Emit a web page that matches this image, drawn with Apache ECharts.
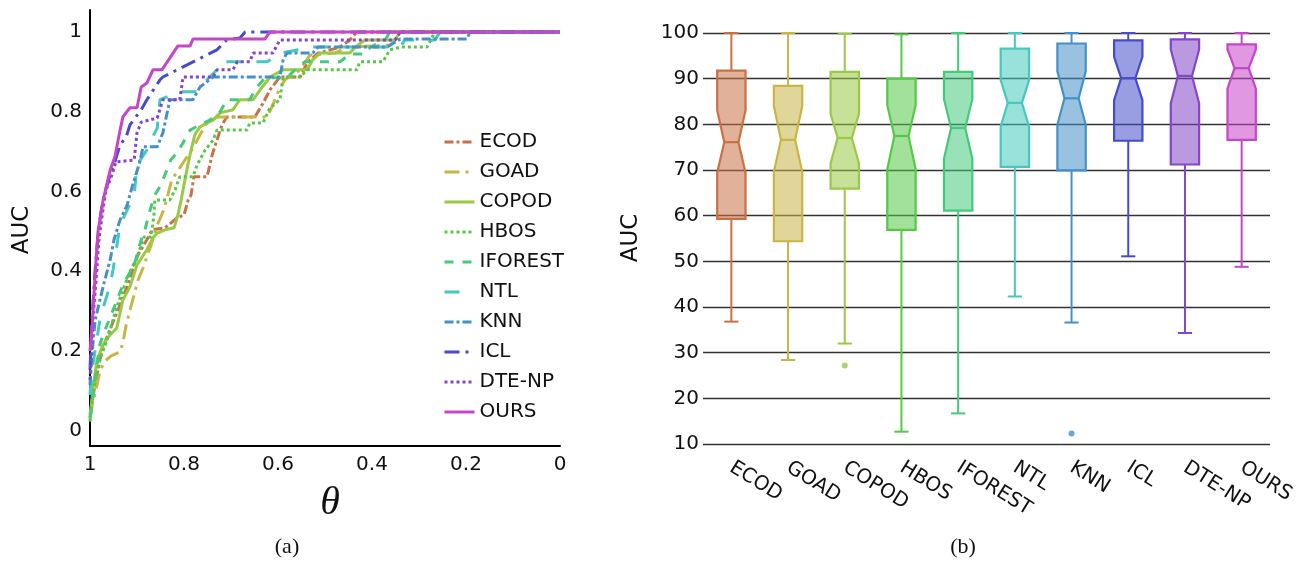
<!DOCTYPE html>
<html>
<head>
<meta charset="utf-8">
<script src="https://cdn.jsdelivr.net/npm/echarts@6/dist/echarts.min.js"></script>
<style>
html,body{margin:0;padding:0;background:#fff;}
#chart{width:1308px;height:561px;}
</style>
</head>
<body>
<div id="chart"></div>
<script>
// ---------- (a) AUC vs theta curves: [theta, AUC] ----------
const methodNames = ['ECOD','GOAD','COPOD','HBOS','IFOREST','NTL','KNN','ICL','DTE-NP','OURS'];
const methodColors = ['#c97145','#c9b545','#99c945','#55c945','#45c97a','#45c9be','#4590c9','#454cc9','#8345c9','#c745c9'];

const curveECOD = [[1,.04],[.996,.073],[.985,.14],[.977,.19],[.968,.223],[.951,.273],[.936,.316],[.921,.361],[.906,.416],[.898,.441],[.879,.479],[.868,.504],[.840,.509],[.815,.534],[.8,.541],[.791,.579],[.785,.591],[.779,.637],[.751,.637],[.740,.692],[.730,.729],[.719,.767],[.709,.787],[.649,.787],[.634,.817],[.617,.855],[.596,.887],[.553,.887],[.538,.922],[.515,.947],[.489,.955],[.468,.962],[.447,.98],[.432,1],[0,1]];
const curveGOAD = [[1,.033],[.996,.06],[.989,.095],[.979,.148],[.970,.173],[.955,.188],[.936,.198],[.930,.221],[.923,.266],[.915,.303],[.906,.341],[.9,.371],[.887,.409],[.870,.466],[.857,.516],[.843,.554],[.826,.629],[.798,.679],[.781,.709],[.766,.742],[.751,.772],[.730,.787],[.623,.787],[.613,.812],[.596,.86],[.585,.88],[.553,.905],[.532,.942],[.479,.947],[.453,.962],[.362,.967],[.345,.985],[.334,1],[0,1]];
const curveCOPOD = [[1,.028],[.994,.103],[.985,.178],[.972,.216],[.957,.241],[.943,.258],[.930,.328],[.915,.361],[.9,.416],[.879,.454],[.866,.484],[.857,.496],[.840,.504],[.821,.509],[.813,.541],[.806,.579],[.8,.617],[.794,.654],[.785,.704],[.777,.742],[.766,.762],[.751,.772],[.738,.779],[.723,.797],[.696,.805],[.681,.83],[.653,.83],[.638,.855],[.617,.887],[.589,.905],[.538,.905],[.526,.93],[.511,.947],[.447,.947],[.436,.962],[.415,.98],[.351,.98],[.340,1],[0,1]];
const curveHBOS = [[1,.023],[.994,.09],[.987,.14],[.979,.178],[.964,.228],[.957,.253],[.943,.311],[.926,.366],[.913,.404],[.9,.434],[.891,.466],[.885,.486],[.870,.486],[.864,.541],[.862,.579],[.830,.579],[.819,.604],[.809,.637],[.781,.637],[.772,.667],[.755,.704],[.738,.729],[.730,.754],[.666,.754],[.660,.772],[.632,.772],[.617,.81],[.596,.83],[.589,.887],[.553,.887],[.538,.905],[.432,.905],[.426,.925],[.377,.925],[.362,.955],[.340,.962],[.283,.962],[.266,1],[0,1]];
const curveIFOREST = [[1,.033],[.996,.065],[.991,.115],[.985,.165],[.979,.216],[.972,.241],[.951,.303],[.936,.348],[.930,.366],[.906,.416],[.891,.479],[.885,.496],[.872,.554],[.862,.591],[.849,.617],[.828,.679],[.815,.697],[.802,.722],[.787,.754],[.766,.767],[.745,.779],[.723,.8],[.709,.83],[.660,.83],[.649,.855],[.628,.885],[.581,.885],[.564,.905],[.543,.925],[.468,.925],[.447,.945],[.415,.945],[.404,.962],[.372,.98],[.362,1],[0,1]];
const curveNTL = [[1,.09],[.996,.148],[.989,.203],[.979,.278],[.970,.316],[.957,.366],[.951,.404],[.936,.516],[.926,.541],[.906,.591],[.9,.667],[.879,.704],[.870,.729],[.857,.759],[.851,.83],[.809,.85],[.772,.85],[.751,.88],[.730,.905],[.723,.925],[.623,.925],[.596,.947],[.526,.962],[.340,.962],[.330,.98],[.266,.98],[.255,1],[0,1]];
const curveKNN = [[1,.115],[.996,.19],[.989,.278],[.979,.328],[.970,.371],[.957,.429],[.949,.479],[.936,.529],[.921,.566],[.909,.617],[.894,.674],[.887,.712],[.857,.712],[.845,.747],[.830,.83],[.781,.83],[.766,.862],[.738,.887],[.596,.887],[.589,.93],[.581,.947],[.526,.947],[.515,.962],[.368,.962],[.340,.982],[.198,.982],[.191,1],[0,1]];
const curveICL = [[1,.153],[.996,.278],[.989,.404],[.983,.491],[.977,.546],[.970,.591],[.957,.642],[.949,.667],[.936,.717],[.923,.737],[.915,.767],[.891,.805],[.879,.83],[.851,.88],[.845,.887],[.815,.905],[.772,.93],[.730,.955],[.709,.98],[.681,.985],[.670,1],[0,1]];
const curveDTENP = [[1,.128],[.994,.278],[.987,.378],[.981,.479],[.974,.541],[.966,.604],[.953,.642],[.945,.674],[.906,.679],[.9,.747],[.891,.774],[.857,.784],[.845,.83],[.809,.83],[.802,.887],[.738,.887],[.730,.905],[.696,.905],[.687,.925],[.660,.925],[.653,.947],[.611,.947],[.596,.98],[.351,.98],[.340,1],[0,1]];
const curveOURS = [[1,.2],[.996,.253],[.991,.353],[.987,.429],[.983,.499],[.972,.579],[.957,.654],[.947,.687],[.936,.754],[.930,.787],[.915,.81],[.9,.81],[.891,.862],[.879,.872],[.866,.905],[.847,.905],[.830,.935],[.813,.965],[.787,.965],[.781,.982],[.628,.982],[.617,1],[0,1]];
const curves = [curveECOD,curveGOAD,curveCOPOD,curveHBOS,curveIFOREST,curveNTL,curveKNN,curveICL,curveDTENP,curveOURS];
const dashStyles = [[9,3,3,3],[15,6,3,6],'solid',[3,3],[9,9],[15,15],[9,3,3,3],[15,6,3,6],[3,3],'solid'];

const thetaTicks = [0,0.2,0.4,0.6,0.8,1];
const aucTicksA = [0,0.2,0.4,0.6,0.8,1];

// ---------- (b) notched box plots ----------
const boxCats = ['ECOD','GOAD','COPOD','HBOS','IFOREST','NTL','KNN','ICL','DTE-NP','OURS'];
const boxMin    = [36.8, 28.4, 32.0, 12.7, 16.7, 42.3, 36.6, 51.1, 34.3, 48.8];
const boxQ1     = [59.3, 54.4, 65.9, 56.9, 61.1, 70.7, 69.9, 76.4, 71.2, 76.6];
const boxNotchLo= [69.4, 69.6, 71.5, 70.2, 72.5, 79.5, 79.9, 85.3, 84.6, 87.8];
const boxMedian = [76.1, 76.6, 77.0, 77.45, 79.2, 84.7, 85.7, 90.1, 90.6, 92.3];
const boxNotchHi= [83.1, 84.0, 82.3, 84.2, 85.5, 89.7, 91.6, 94.8, 96.4, 96.4];
const boxQ3     = [91.75, 88.4, 91.5, 90.0, 91.5, 96.6, 97.7, 98.4, 98.6, 97.5];
const boxMax    = [100, 100, 99.8, 99.7, 100, 100, 100, 100, 100, 100];
const outlierCat = [2, 6];
const outlierVal = [27.2, 12.3];

const FONT = 'DejaVu Sans';
const chart = echarts.init(document.getElementById('chart'), null, {renderer:'canvas'});

const lineSeries = methodNames.map((name, i) => ({
  name: name,
  type: 'line',
  xAxisIndex: 0, yAxisIndex: 0,
  data: curves[i],
  symbol: 'none',
  showSymbol: false,
  clip: true,
  lineStyle: { color: methodColors[i], width: 3, type: dashStyles[i], cap: 'butt' },
  itemStyle: { color: methodColors[i] },
  z: 2 + i
}));

const boxData = boxCats.map((c, i) => [i, boxMin[i], boxQ1[i], boxNotchLo[i], boxMedian[i], boxNotchHi[i], boxQ3[i], boxMax[i]]);

function renderBox(params, api) {
  const i = api.value(0);
  const col = methodColors[i];
  const bw = api.size([1, 0])[0];
  const hw = bw * 0.25;
  const nw = hw * 0.5;
  const capHW = bw * 0.125;
  const cx = api.coord([i, 50])[0];
  const y = k => api.coord([i, api.value(k)])[1];
  const yMin = y(1), yQ1 = y(2), yNL = y(3), yMed = y(4), yNH = y(5), yQ3 = y(6), yMax = y(7);
  const ls = { stroke: col, lineWidth: 2 };
  return {
    type: 'group',
    children: [
      { type: 'line', shape: { x1: cx, y1: yQ3, x2: cx, y2: yMax }, style: ls },
      { type: 'line', shape: { x1: cx, y1: yQ1, x2: cx, y2: yMin }, style: ls },
      { type: 'line', shape: { x1: cx - capHW, y1: yMax, x2: cx + capHW, y2: yMax }, style: ls },
      { type: 'line', shape: { x1: cx - capHW, y1: yMin, x2: cx + capHW, y2: yMin }, style: ls },
      { type: 'polygon',
        shape: { points: [[cx - hw, yQ1], [cx - hw, yNL], [cx - nw, yMed], [cx - hw, yNH], [cx - hw, yQ3],
                          [cx + hw, yQ3], [cx + hw, yNH], [cx + nw, yMed], [cx + hw, yNL], [cx + hw, yQ1]] },
        style: { fill: col, fillOpacity: 0.55, stroke: col, lineWidth: 2.2, lineJoin: 'miter' } },
      { type: 'line', shape: { x1: cx - nw, y1: yMed, x2: cx + nw, y2: yMed }, style: { stroke: col, lineWidth: 2.2 } }
    ]
  };
}

const option = {
  animation: false,
  backgroundColor: '#ffffff',
  textStyle: { fontFamily: FONT },
  grid: [
    { left: 90, right: 748, top: 10, bottom: 115 },
    { left: 703, right: 38, top: 33, bottom: 117 }
  ],
  legend: {
    orient: 'vertical',
    left: 438, top: 127,
    itemWidth: 30, itemHeight: 14, itemGap: 10,
    data: methodNames,
    itemStyle: { color: 'rgba(0,0,0,0)', borderWidth: 0, opacity: 0 },
    lineStyle: { width: 3 },
    textStyle: { fontFamily: FONT, fontSize: 20, color: '#111' }
  },
  xAxis: [
    { gridIndex: 0, type: 'value', min: 0, max: 1, interval: 0.2, inverse: true,
      axisLine: { show: true, onZero: false, lineStyle: { color: '#000', width: 2 } },
      axisTick: { show: false }, splitLine: { show: false },
      axisLabel: { fontFamily: FONT, fontSize: 20, color: '#111', margin: 9,
        customValues: thetaTicks, formatter: v => String(+v.toFixed(1)) } },
    { gridIndex: 1, type: 'category', data: boxCats, boundaryGap: true,
      axisLine: { show: false }, axisTick: { show: false },
      axisLabel: { fontFamily: FONT, fontSize: 20, color: '#111', rotate: -32, margin: 22, interval: 0 } }
  ],
  yAxis: [
    { gridIndex: 0, type: 'value', min: -0.038, max: 1.055,
      axisLine: { show: true, onZero: false, lineStyle: { color: '#000', width: 2 } },
      axisTick: { show: false }, splitLine: { show: false },
      axisLabel: { fontFamily: FONT, fontSize: 20, color: '#111', margin: 8,
        customValues: aucTicksA, formatter: v => String(+v.toFixed(1)) } },
    { gridIndex: 1, type: 'value', min: 10, max: 100, interval: 10,
      axisLine: { show: false }, axisTick: { show: false },
      splitLine: { show: true, lineStyle: { color: '#333', width: 1.3 } },
      axisLabel: { fontFamily: FONT, fontSize: 20, color: '#111', margin: 4 } }
  ],
  graphic: [
    { type: 'text', x: 22, y: 230, rotation: Math.PI / 2,
      style: { text: 'AUC', font: '23px "DejaVu Sans"', fill: '#111', align: 'center', verticalAlign: 'middle' } },
    { type: 'text', x: 631, y: 238, rotation: Math.PI / 2,
      style: { text: 'AUC', font: '23px "DejaVu Sans"', fill: '#111', align: 'center', verticalAlign: 'middle' } },
    { type: 'text', x: 330, y: 503,
      style: { text: 'θ', font: 'italic 40px "Liberation Serif"', fill: '#111', align: 'center', verticalAlign: 'middle' } },
    { type: 'text', x: 287, y: 547,
      style: { text: '(a)', font: '22px "Liberation Serif"', fill: '#111', align: 'center', verticalAlign: 'middle' } },
    { type: 'text', x: 963, y: 547,
      style: { text: '(b)', font: '22px "Liberation Serif"', fill: '#111', align: 'center', verticalAlign: 'middle' } }
  ],
  series: lineSeries.concat([
    { type: 'custom', name: 'box', xAxisIndex: 1, yAxisIndex: 1,
      renderItem: renderBox, data: boxData,
      encode: { x: 0, y: [1, 2, 3, 4, 5, 6, 7] }, z: 3 },
    { type: 'scatter', name: 'outliers', xAxisIndex: 1, yAxisIndex: 1,
      symbolSize: 6,
      data: outlierCat.map((c, k) => ({ value: [c, outlierVal[k]], itemStyle: { color: methodColors[c] } })),
      z: 4 }
  ])
};
chart.setOption(option);
</script>
</body>
</html>
